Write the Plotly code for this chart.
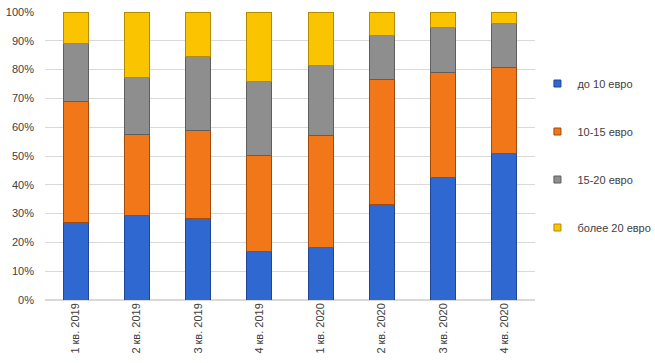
import plotly.graph_objects as go

categories = ["1 кв. 2019", "2 кв. 2019", "3 кв. 2019", "4 кв. 2019",
              "1 кв. 2020", "2 кв. 2020", "3 кв. 2020", "4 кв. 2020"]
series_names = ["до 10 евро", "10-15 евро", "15-20 евро", "более 20 евро"]
upto10 = [27.0, 29.2, 28.4, 16.7, 18.4, 33.0, 42.5, 50.9]
from10to15 = [42.0, 28.4, 30.3, 33.6, 38.6, 43.7, 36.4, 30.0]
from15to20 = [20.0, 19.8, 26.0, 25.4, 24.5, 15.3, 15.6, 15.0]
over20 = [11.0, 22.6, 15.3, 24.3, 18.5, 8.0, 5.5, 4.1]

values = [upto10, from10to15, from15to20, over20]
colors = ["#3068D2", "#F27718", "#8E8E8E", "#FAC400"]
edges = ["#1F4596", "#A24A0A", "#5E5E5E", "#B58C00"]

fig = go.Figure()
for name, vals, c, e in zip(series_names, values, colors, edges):
    fig.add_trace(go.Bar(
        x=categories, y=vals, name=name, legendgroup=name, showlegend=False,
        marker=dict(color=c, line=dict(color=e, width=1)),
    ))
# legend entries with small square swatches
for name, c, e in zip(series_names, colors, edges):
    fig.add_trace(go.Scatter(
        x=[None], y=[None], mode="markers", name=name, legendgroup=name,
        marker=dict(symbol="square", size=7, color=c, line=dict(color=e, width=1)),
    ))

font_family = "Liberation Sans, Arial, sans-serif"
fig.update_layout(
    barmode="stack",
    bargap=0.59,
    width=655, height=363,
    margin=dict(l=45, r=120, t=12, b=63, autoexpand=False),
    plot_bgcolor="white", paper_bgcolor="white",
    font=dict(family=font_family, size=11, color="#404040"),
    legend=dict(
        x=1.005, y=0.802, xanchor="left", yanchor="top",
        traceorder="grouped", tracegroupgap=29,
        font=dict(size=11, color="#404040"),
        itemwidth=30, bgcolor="rgba(0,0,0,0)",
    ),
    showlegend=True,
)
fig.update_yaxes(
    range=[0, 100], dtick=10, ticksuffix="%", automargin=False,
    showgrid=True, gridcolor="#D9D9D9", gridwidth=1,
    zeroline=True, zerolinecolor="#D9D9D9",
    tickfont=dict(size=11, color="#404040"),
    ticks="", ticklen=0, ticklabelstandoff=10,
)
fig.update_xaxes(
    tickangle=-90, showline=False, automargin=False,
    tickfont=dict(size=11, color="#404040"),
)
fig.write_html("out.html", config={"displayModeBar": False},
               post_script="document.body.style.margin='0px';")
